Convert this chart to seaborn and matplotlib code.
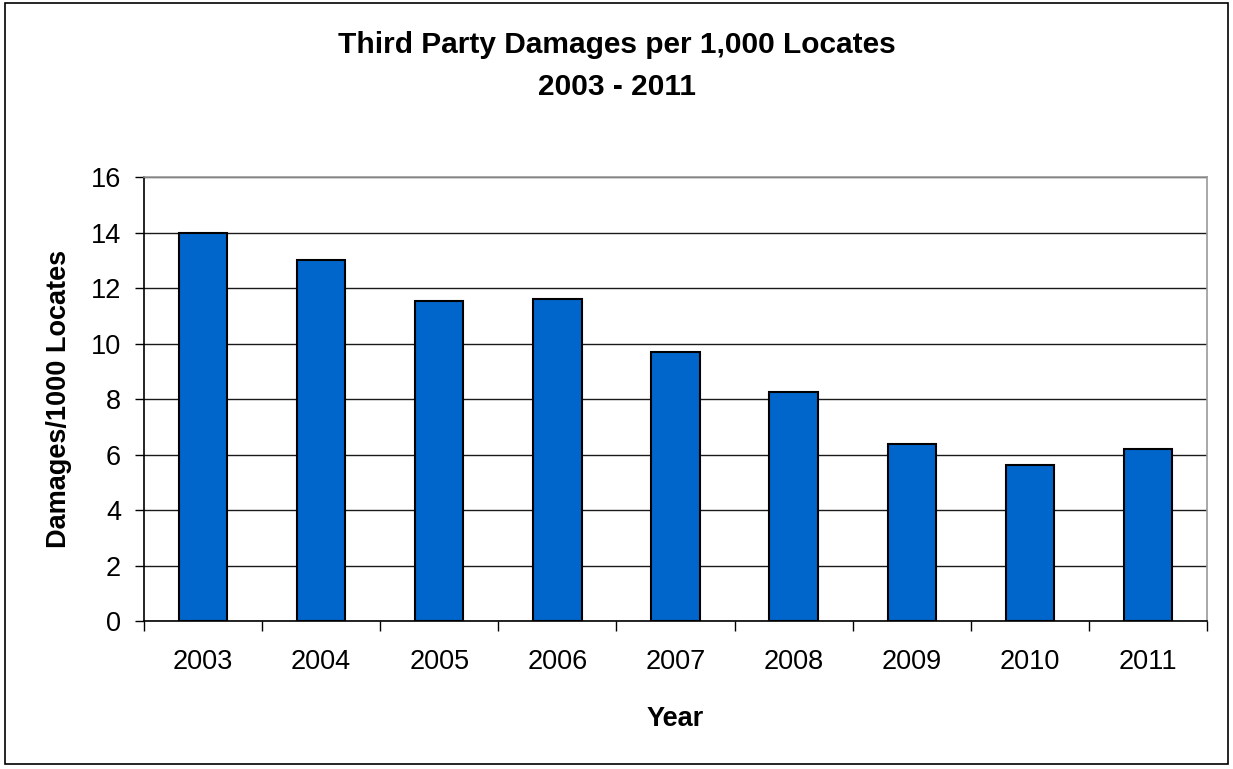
import matplotlib
matplotlib.use("Agg")
import matplotlib.pyplot as plt
import seaborn as sns
import pandas as pd
from matplotlib.patches import Rectangle

years = ["2003", "2004", "2005", "2006", "2007", "2008", "2009", "2010", "2011"]
damages = [14.0, 13.0, 11.53, 11.6, 9.69, 8.24, 6.39, 5.63, 6.2]
y_ticks = [0, 2, 4, 6, 8, 10, 12, 14, 16]

sns.set_theme(style="white")
plt.rcParams["font.family"] = ["Liberation Sans", "DejaVu Sans"]
plt.rcParams["text.color"] = "black"
plt.rcParams["axes.labelcolor"] = "black"
plt.rcParams["xtick.color"] = "black"
plt.rcParams["ytick.color"] = "black"

df = pd.DataFrame({"Year": years, "Damages": damages})

W, H = 1233, 769
fig = plt.figure(figsize=(W / 100, H / 100), dpi=100)
ax = fig.add_axes([144 / W, 1 - 621 / H, (1207 - 144) / W, (621 - 177) / H])

sns.barplot(data=df, x="Year", y="Damages", color="#0066CC", saturation=1,
            width=0.41, edgecolor="black", linewidth=1.5, ax=ax, zorder=3)

ax.set_ylim(0, 16)
ax.set_xlim(-0.5, len(years) - 0.5)
ax.set_yticks(y_ticks)
ax.yaxis.grid(True, color="#1a1a1a", linewidth=1.0, zorder=0)
ax.set_axisbelow(True)

# category boundary ticks on the x axis
ax.set_xticks([i - 0.5 for i in range(len(years) + 1)], minor=True)
ax.tick_params(axis="x", which="major", length=0, labelsize=19.5, pad=20, colors="black")
ax.tick_params(axis="x", which="minor", length=7, width=1, color="black", direction="out", bottom=True)
ax.tick_params(axis="y", length=6.5, width=1, color="black", direction="out", left=True,
               labelsize=19.5, pad=10)

for side in ["top", "right"]:
    ax.spines[side].set_color("#999999")
    ax.spines[side].set_linewidth(1.2)
for side in ["left", "bottom"]:
    ax.spines[side].set_color("black")
    ax.spines[side].set_linewidth(1.2)

ax.set_xlabel("Year", fontsize=19.5, fontweight="bold", color="black")
ax.xaxis.label.set_va("baseline")
ax.xaxis.set_label_coords(0.5, (621 - 726) / 444)
ax.set_ylabel("Damages/1000 Locates", fontsize=19.5, fontweight="bold", color="black")
ax.yaxis.label.set_va("center")
ax.yaxis.set_label_coords((59 - 144) / 1063, 0.5)

# two-line chart title, centred on the whole chart
fig.text(0.5, 1 - 53 / H, "Third Party Damages per 1,000 Locates",
         ha="center", va="baseline", fontsize=21.5, fontweight="bold", color="black")
fig.text(0.5, 1 - 95 / H, "2003 - 2011",
         ha="center", va="baseline", fontsize=21.5, fontweight="bold", color="black")

# outer chart frame
fig.patches.append(Rectangle((5 / W, 5 / H), 1223 / W, 761 / H,
                             transform=fig.transFigure, fill=False,
                             edgecolor="black", linewidth=1.2))

fig.savefig("out.png", dpi=100)
